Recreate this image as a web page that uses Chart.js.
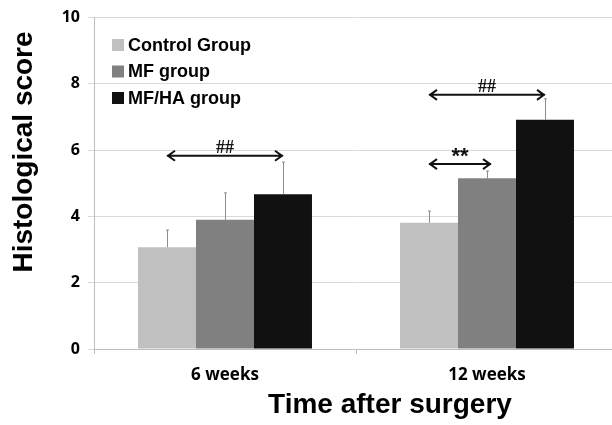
<!DOCTYPE html>
<html>
<head>
<meta charset="utf-8">
<script src="https://cdn.jsdelivr.net/npm/chart.js@4.4.1/dist/chart.umd.min.js"></script>
<style>
  html, body { margin: 0; padding: 0; background: #fff; overflow: hidden; }
  #wrap { width: 620px; height: 425px; }
</style>
</head>
<body>
<div id="wrap"><canvas id="myChart" width="620" height="425"></canvas></div>
<script>
// categories and series
const categories = ['6 weeks', '12 weeks'];
const seriesNames = ['Control Group', 'MF group', 'MF/HA group'];
const seriesColors = ['#c0c0c0', '#808080', '#111111'];
const controlScores = [3.07, 3.81];
const mfScores = [3.90, 5.15];
const mfhaScores = [4.67, 6.92];
// upper error bar lengths
const controlErr = [0.52, 0.35];
const mfErr = [0.81, 0.22];
const mfhaErr = [0.97, 0.63];
const yTicks = [0, 2, 4, 6, 8, 10];

// significance arrows: category, from series, to series, height, label
const arrowCat = [0, 1, 1];
const arrowFrom = [0, 0, 0];
const arrowTo = [2, 2, 1];
const arrowY = [5.83, 7.67, 5.58];
const arrowLabel = ['##', '##', '**'];

const errors = [controlErr, mfErr, mfhaErr];

/**
 * draws the error bars, arrows, legend and axis titles on top of the bars
 */
const extras = {
  id: 'extras',
  afterDatasetsDraw (chart) {
    const ctx = chart.ctx;
    const y = chart.scales.y;

    // error bars (upper only)
    ctx.save();
    ctx.strokeStyle = '#8c8c8c';
    ctx.lineWidth = 1;
    chart.data.datasets.forEach((ds, i) => {
      const meta = chart.getDatasetMeta(i);
      meta.data.forEach((bar, j) => {
        const top = y.getPixelForValue(ds.data[j] + errors[i][j]);
        const x = Math.round(bar.x) + 0.5;
        ctx.beginPath();
        ctx.moveTo(x, bar.y);
        ctx.lineTo(x, top);
        ctx.moveTo(x - 1.5, top);
        ctx.lineTo(x + 1.5, top);
        ctx.stroke();
      });
    });
    ctx.restore();

    // arrows
    ctx.save();
    ctx.strokeStyle = '#111';
    ctx.fillStyle = '#111';
    ctx.lineWidth = 2;
    for (let k = 0; k < arrowCat.length; k++) {
      const x1 = chart.getDatasetMeta(arrowFrom[k]).data[arrowCat[k]].x;
      let x2 = chart.getDatasetMeta(arrowTo[k]).data[arrowCat[k]].x;
      if (arrowTo[k] === 1) x2 += 4;
      const py = y.getPixelForValue(arrowY[k]);
      ctx.beginPath();
      ctx.moveTo(x1, py);
      ctx.lineTo(x2, py);
      ctx.moveTo(x1 + 8, py - 5);
      ctx.lineTo(x1 + 1, py);
      ctx.lineTo(x1 + 8, py + 5);
      ctx.moveTo(x2 - 8, py - 5);
      ctx.lineTo(x2 - 1, py);
      ctx.lineTo(x2 - 8, py + 5);
      ctx.stroke();
      ctx.textAlign = 'center';
      ctx.textBaseline = 'alphabetic';
      if (arrowLabel[k] === '**') {
        ctx.font = 'bold 22px "Liberation Sans", Arial, sans-serif';
        ctx.fillText(arrowLabel[k], (x1 + x2) / 2, py - 1);
      } else {
        ctx.font = 'bold 18px "Liberation Serif", "Times New Roman", serif';
        ctx.fillText(arrowLabel[k], (x1 + x2) / 2, py - 3);
      }
    }
    ctx.restore();

    // legend inside the plot
    ctx.save();
    ctx.font = 'bold 18px "Liberation Sans", Arial, sans-serif';
    ctx.textBaseline = 'middle';
    ctx.textAlign = 'left';
    seriesNames.forEach((name, i) => {
      const cy = 45 + i * 26.5;
      ctx.fillStyle = seriesColors[i];
      ctx.fillRect(112, cy - 6, 12, 12);
      ctx.fillStyle = '#000';
      ctx.fillText(name, 128, cy + 1);
    });
    ctx.restore();

    // axis titles
    ctx.save();
    ctx.fillStyle = '#000';
    ctx.font = 'bold 28px "Liberation Sans", Arial, sans-serif';
    ctx.textAlign = 'center';
    ctx.textBaseline = 'middle';
    ctx.fillText('Time after surgery', 390, 405);
    ctx.translate(24, 152);
    ctx.rotate(-Math.PI / 2);
    ctx.fillText('Histological score', 0, 0);
    ctx.restore();
  }
};

const data = {
  labels: categories,
  datasets: [
    { label: seriesNames[0], data: controlScores, backgroundColor: seriesColors[0] },
    { label: seriesNames[1], data: mfScores, backgroundColor: seriesColors[1] },
    { label: seriesNames[2], data: mfhaScores, backgroundColor: seriesColors[2] }
  ]
};

const config = {
  type: 'bar',
  data,
  options: {
    responsive: false,
    animation: false,
    layout: { padding: { top: 16, right: 2, bottom: 0, left: 0 } },
    datasets: {
      bar: { barPercentage: 1, categoryPercentage: 0.664, borderWidth: 0 }
    },
    plugins: {
      legend: { display: false },
      tooltip: { enabled: false }
    },
    scales: {
      x: {
        afterFit: (s) => { s.height = 76; },
        grid: { offset: true, drawOnChartArea: false, tickLength: 5, color: '#bfbfbf' },
        border: { color: '#bfbfbf' },
        ticks: {
          padding: 11,
          color: '#000',
          font: { family: '"Open Sans", sans-serif', weight: 'bold', size: 17 }
        }
      },
      y: {
        min: 0,
        max: 10,
        afterFit: (s) => { s.width = 94; },
        afterBuildTicks: (s) => { s.ticks = yTicks.map(v => ({ value: v })); },
        grid: { color: '#d9d9d9', tickLength: 6 },
        border: { color: '#bfbfbf' },
        ticks: {
          padding: 8,
          color: '#000',
          font: { family: '"Open Sans", sans-serif', weight: 'bold', size: 16 }
        }
      }
    }
  },
  plugins: [extras]
};

const myChart = new Chart(document.getElementById('myChart'), config);
</script>
</body>
</html>
